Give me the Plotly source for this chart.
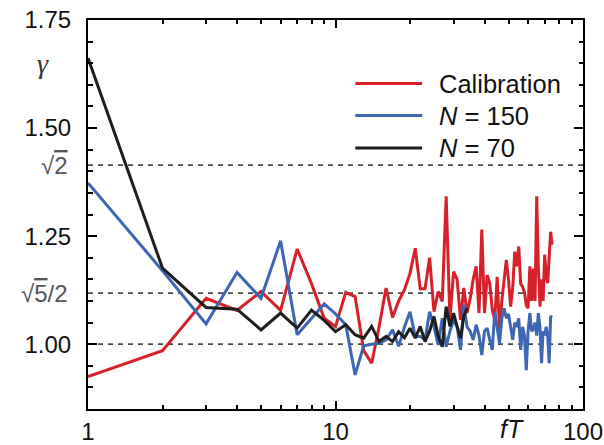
import plotly.graph_objects as go

# ---- data ----
calib_x = list(range(1, 76))
calib_y = [0.925, 0.985, 1.106, 1.078, 1.122, 1.078, 1.220, 1.140, 1.060, 1.041,
           1.120, 1.110, 0.985, 0.956, 1.040, 1.130, 1.062, 1.100, 1.126, 1.164,
           1.222, 1.128, 1.128, 1.200, 1.075, 1.122, 1.099, 1.342, 1.056, 1.168,
           1.150, 1.056, 1.130, 1.072, 1.105, 1.150, 1.180, 1.072, 1.265, 1.072,
           1.160, 1.140, 1.080, 1.056, 1.156, 1.030, 1.100, 1.156, 1.195, 1.150,
           1.087, 1.130, 1.214, 1.180, 1.226, 1.140, 1.133, 1.120, 1.090, 1.083,
           1.180, 1.100, 1.175, 1.100, 1.342, 1.180, 1.087, 1.150, 1.100, 1.207,
           1.160, 1.141, 1.200, 1.260, 1.230]

n150_x = list(range(1, 76))
n150_y = [1.373, 1.170, 1.047, 1.166, 1.106, 1.239, 1.022, 1.060, 1.093, 1.070,
          1.045, 0.929, 0.996, 1.000, 1.002, 1.010, 1.033, 0.995, 1.040, 1.075,
          1.018, 1.018, 1.010, 1.075, 1.040, 0.998, 1.060, 0.994, 1.030, 1.056,
          1.040, 0.987, 1.091, 1.040, 1.030, 1.010, 1.045, 1.020, 0.975, 1.030,
          1.037, 1.010, 0.987, 1.075, 1.040, 1.002, 1.060, 1.083, 1.060, 1.070,
          1.040, 1.010, 1.050, 1.040, 1.060, 0.987, 1.040, 1.020, 0.940, 1.030,
          1.072, 1.030, 1.035, 1.050, 1.020, 1.072, 1.040, 0.956, 1.030, 1.020,
          1.040, 1.020, 0.956, 1.065, 1.062]

n70_x = list(range(1, 35))
n70_y = [1.662, 1.176, 1.085, 1.081, 1.033, 1.072, 1.037, 1.079, 1.055, 1.029,
         1.045, 1.022, 1.014, 1.041, 1.006, 1.018, 1.006, 1.029, 1.015, 1.037,
         1.014, 1.041, 1.006, 1.030, 1.064, 1.018, 0.994, 1.087, 1.041, 1.072,
         1.041, 1.014, 1.064, 1.083]

ref_levels = [1.0, 5 ** 0.5 / 2, 2 ** 0.5]
ytick_vals = [1.00, 1.25, 1.50, 1.75]
ytick_text = ["1.00", "1.25", "1.50", "1.75"]
xtick_vals = [1, 10, 100]
xtick_text = ["1", "10", "100"]
series_names = ["Calibration", "<i>N</i> = 150", "<i>N</i> = 70"]

RED = "#d7202a"
BLUE = "#3d66b3"
BLACK = "#1e1e1e"
FONT = "Liberation Sans, Arial, sans-serif"

fig = go.Figure()
for x, y, c in [(calib_x, calib_y, RED), (n150_x, n150_y, BLUE), (n70_x, n70_y, BLACK)]:
    fig.add_trace(go.Scatter(x=x, y=y, mode="lines", line=dict(color=c, width=3),
                             showlegend=False))

# dashed reference lines
for lv in ref_levels:
    fig.add_shape(type="line", xref="paper", yref="y", x0=0, x1=1, y0=lv, y1=lv,
                  line=dict(color="#4a4a4a", width=1.6, dash="5px,5px"), layer="below")

minor_x = [v * d for d in (1, 10) for v in range(2, 10)]

fig.update_layout(
    width=604, height=445,
    margin=dict(l=88, r=21, t=20, b=36, autoexpand=False),
    plot_bgcolor="white", paper_bgcolor="white",
    font=dict(family=FONT, size=24, color="#111"),
    xaxis=dict(type="log", range=[0, 2], tickmode="array", tickvals=xtick_vals,
               ticktext=xtick_text, ticks="inside", ticklen=8, tickwidth=1.6,
               tickcolor="black", showline=True, linecolor="black", linewidth=2,
               mirror="ticks", showgrid=False, zeroline=False, automargin=False,
               minor=dict(tickmode="array", tickvals=minor_x, ticks="inside",
                          ticklen=4, tickwidth=1.6, tickcolor="black", showgrid=False)),
    yaxis=dict(range=[0.85, 1.75], tickmode="array", tickvals=ytick_vals,
               ticktext=ytick_text, ticks="inside", ticklen=9, tickwidth=1.6,
               tickcolor="black", showline=True, linecolor="black", linewidth=2,
               mirror="ticks", showgrid=False, zeroline=False, ticklabelstandoff=10,
               automargin=False,
               minor=dict(dtick=0.05, tick0=0.85, ticks="inside", ticklen=4.5,
                          tickwidth=1.6, tickcolor="black", showgrid=False)),
)

# sqrt labels on the y axis
fig.add_annotation(xref="paper", yref="y", x=-0.036, y=2 ** 0.5, xanchor="right",
                   yanchor="middle", showarrow=False,
                   text="√<span style='text-decoration:overline'>2</span>",
                   font=dict(size=24, color="#555"))
fig.add_annotation(xref="paper", yref="y", x=-0.036, y=5 ** 0.5 / 2, xanchor="right",
                   yanchor="middle", showarrow=False,
                   text="√<span style='text-decoration:overline'>5</span>/2",
                   font=dict(size=24, color="#555"))
# gamma axis label
fig.add_annotation(xref="paper", yref="y", x=-0.09, y=1.65, xanchor="center",
                   yanchor="middle", showarrow=False, text="<i>γ</i>",
                   font=dict(size=28, color="#333", family="Liberation Serif, serif"))
# fT axis label
fig.add_annotation(xref="x", yref="paper", x=1.713, y=0, yshift=-4, xanchor="center",
                   yanchor="top", showarrow=False, text="<i>fT</i>",
                   font=dict(size=25, color="#111"))

# custom legend
leg_y = [1.603, 1.529, 1.454]
for name, c, ly in zip(series_names, [RED, BLUE, BLACK], leg_y):
    fig.add_shape(type="line", xref="paper", yref="y", x0=0.54, x1=0.675, y0=ly, y1=ly,
                  line=dict(color=c, width=3))
    fig.add_annotation(xref="paper", yref="y", x=0.705, y=ly, xanchor="left",
                       yanchor="middle", showarrow=False, text=name,
                       font=dict(size=25.5, color="#111"))

fig.write_html("out.html")
